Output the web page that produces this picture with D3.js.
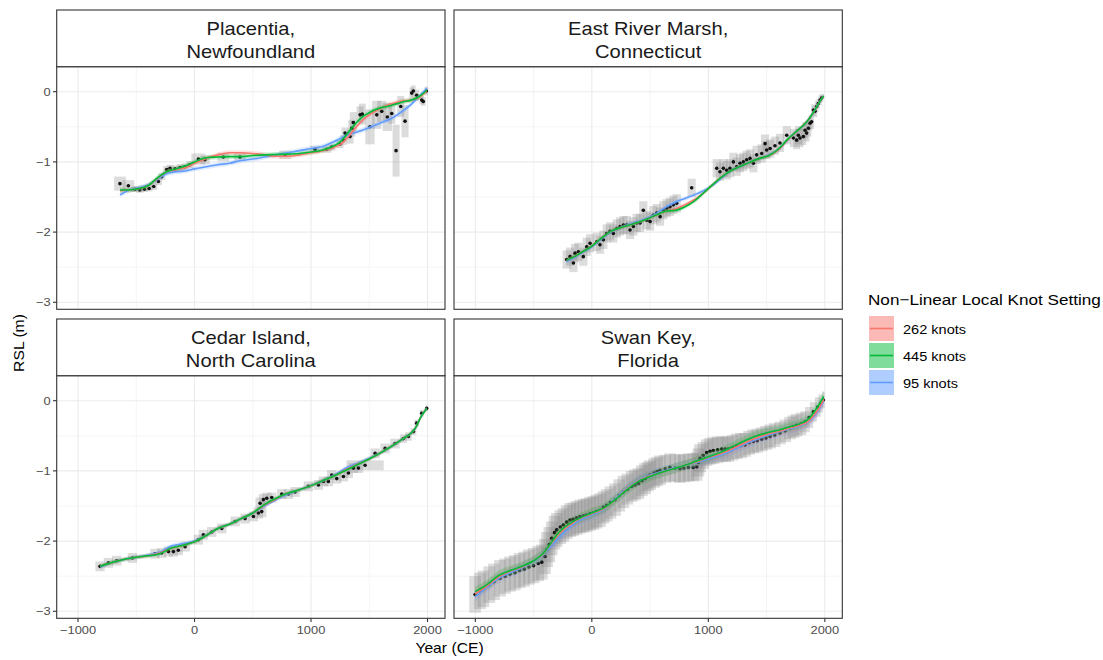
<!DOCTYPE html>
<html>
<head>
<meta charset="utf-8">
<script src="https://cdn.jsdelivr.net/npm/d3@7"></script>
<style>
  body { margin: 0; background: #fff; }
  svg text { font-family: "Liberation Sans", Arial, Helvetica, sans-serif; }
</style>
</head>
<body>
<svg id="chart" width="1103" height="660"></svg>
<script>
// ---------------- data ----------------
const siteNames = [
  ["Placentia,", "Newfoundland"],
  ["East River Marsh,", "Connecticut"],
  ["Cedar Island,", "North Carolina"],
  ["Swan Key,", "Florida"]
];
const seriesNames = ["262 knots", "445 knots", "95 knots"];
const seriesColors = ["#F8766D", "#00BA38", "#619CFF"];
const xTicks = [-1000, 0, 1000, 2000];
const xMinor = [-500, 500, 1500];
const yTicks = [-3, -2, -1, 0];
const yMinor = [-2.5, -1.5, -0.5];

// observations: [year CE, RSL m, year half-uncertainty, RSL half-uncertainty]
const placentiaObs = [
  [-640, -1.31, 50, 0.10], [-568, -1.34, 50, 0.08], [-510, -1.39, 30, 0.04], [-470, -1.40, 30, 0.04],
  [-430, -1.39, 30, 0.04], [-390, -1.38, 30, 0.04], [-350, -1.35, 30, 0.05], [-310, -1.28, 30, 0.05],
  [-282, -1.21, 30, 0.05], [-239, -1.11, 30, 0.05], [-210, -1.09, 30, 0.05], [-167, -1.10, 30, 0.05],
  [-124, -1.08, 30, 0.05], [-82, -1.07, 30, 0.05], [-40, -1.04, 30, 0.05], [33, -0.96, 60, 0.08],
  [90, -0.97, 40, 0.06], [247, -0.93, 50, 0.06], [390, -0.93, 50, 0.06], [777, -0.90, 50, 0.06],
  [1034, -0.82, 40, 0.05], [1135, -0.82, 40, 0.05], [1178, -0.79, 30, 0.05], [1249, -0.745, 30, 0.06],
  [1278, -0.69, 30, 0.07], [1292, -0.59, 30, 0.08], [1335, -0.64, 30, 0.10], [1350, -0.52, 30, 0.12],
  [1363, -0.44, 30, 0.15], [1421, -0.33, 30, 0.12], [1440, -0.32, 30, 0.15], [1506, -0.50, 40, 0.25],
  [1564, -0.33, 40, 0.20], [1607, -0.28, 40, 0.15], [1655, -0.36, 40, 0.20], [1693, -0.31, 30, 0.15],
  [1730, -0.84, 30, 0.37], [1770, -0.21, 30, 0.15], [1807, -0.42, 30, 0.23], [1864, -0.02, 20, 0.08],
  [1878, 0.01, 20, 0.08], [1907, -0.05, 20, 0.08], [1950, -0.12, 20, 0.06], [1964, -0.14, 20, 0.06],
  [1990, 0.01, 15, 0.06]
];
const eastRiverObs = [
  [-216, -2.39, 35, 0.13], [-187, -2.35, 35, 0.13], [-158, -2.44, 35, 0.13], [-144, -2.30, 35, 0.13],
  [-115, -2.28, 35, 0.13], [-73, -2.35, 35, 0.13], [-44, -2.21, 35, 0.13], [-15, -2.16, 35, 0.13],
  [42, -2.14, 35, 0.13], [70, -2.18, 35, 0.13], [99, -2.11, 35, 0.13], [128, -2.02, 35, 0.13],
  [156, -1.99, 35, 0.13], [185, -2.02, 35, 0.13], [214, -1.95, 35, 0.13], [242, -1.92, 35, 0.13],
  [271, -1.90, 35, 0.13], [299, -1.90, 35, 0.13], [328, -1.97, 35, 0.13], [357, -1.92, 35, 0.13],
  [385, -1.87, 35, 0.13], [414, -1.87, 35, 0.13], [442, -1.69, 35, 0.13], [471, -1.83, 35, 0.13],
  [500, -1.85, 35, 0.13], [528, -1.76, 35, 0.13], [557, -1.73, 35, 0.13], [586, -1.78, 35, 0.13],
  [614, -1.69, 35, 0.13], [643, -1.66, 35, 0.13], [671, -1.64, 35, 0.13], [700, -1.61, 35, 0.13],
  [729, -1.59, 35, 0.13], [857, -1.37, 35, 0.13], [1072, -1.09, 35, 0.13], [1100, -1.14, 35, 0.13],
  [1129, -1.09, 35, 0.13], [1158, -1.12, 35, 0.13], [1186, -1.09, 35, 0.13], [1215, -1.00, 35, 0.13],
  [1243, -1.07, 35, 0.13], [1272, -1.02, 35, 0.13], [1301, -1.00, 35, 0.13], [1329, -0.97, 35, 0.13],
  [1358, -0.95, 35, 0.13], [1387, -1.02, 35, 0.13], [1415, -0.90, 35, 0.13], [1458, -0.88, 35, 0.13],
  [1487, -0.74, 35, 0.13], [1501, -0.83, 35, 0.13], [1530, -0.81, 35, 0.13], [1572, -0.77, 35, 0.13],
  [1615, -0.73, 35, 0.13], [1673, -0.62, 35, 0.13], [1730, -0.66, 30, 0.13], [1758, -0.69, 30, 0.13],
  [1773, -0.62, 30, 0.13], [1787, -0.66, 30, 0.13], [1816, -0.64, 25, 0.12], [1830, -0.55, 25, 0.12],
  [1844, -0.59, 25, 0.12], [1859, -0.52, 25, 0.12], [1873, -0.45, 20, 0.10], [1887, -0.43, 20, 0.10],
  [1902, -0.26, 20, 0.08], [1916, -0.28, 20, 0.08], [1930, -0.21, 15, 0.08], [1944, -0.17, 15, 0.07],
  [1959, -0.12, 15, 0.07], [1973, -0.09, 15, 0.06]
];
const cedarIslandObs = [
  [-811, -2.36, 40, 0.07], [-739, -2.31, 40, 0.07], [-668, -2.28, 40, 0.07], [-533, -2.24, 40, 0.07],
  [-339, -2.18, 40, 0.07], [-282, -2.17, 40, 0.07], [-224, -2.15, 40, 0.07], [-181, -2.15, 40, 0.07],
  [-139, -2.13, 40, 0.07], [-81, -2.08, 40, 0.07], [33, -1.98, 40, 0.07], [76, -1.91, 40, 0.07],
  [148, -1.87, 40, 0.07], [234, -1.82, 40, 0.07], [348, -1.72, 40, 0.07], [434, -1.68, 40, 0.07],
  [505, -1.65, 40, 0.07], [548, -1.60, 40, 0.08], [577, -1.58, 40, 0.08], [563, -1.46, 40, 0.08],
  [591, -1.41, 40, 0.08], [620, -1.39, 40, 0.08], [663, -1.38, 40, 0.07], [749, -1.33, 40, 0.07],
  [806, -1.33, 40, 0.07], [863, -1.30, 40, 0.07], [977, -1.22, 40, 0.07], [1063, -1.20, 40, 0.07],
  [1106, -1.15, 40, 0.07], [1149, -1.15, 40, 0.07], [1178, -1.06, 40, 0.07], [1221, -1.11, 40, 0.07],
  [1278, -1.08, 40, 0.07], [1321, -1.03, 40, 0.07], [1364, -0.96, 40, 0.07], [1407, -0.96, 40, 0.07],
  [1464, -0.92, 160, 0.07], [1550, -0.75, 40, 0.07], [1636, -0.68, 40, 0.07], [1721, -0.61, 40, 0.07],
  [1793, -0.54, 30, 0.06], [1836, -0.51, 30, 0.06], [1879, -0.44, 25, 0.05], [1907, -0.32, 20, 0.05],
  [1950, -0.18, 15, 0.05], [1993, -0.11, 10, 0.04]
];
const swanKeyObs = [
  [-1002, -2.76, 50, 0.26], [-960, -2.71, 50, 0.26], [-931, -2.68, 50, 0.26], [-880, -2.62, 50, 0.26],
  [-840, -2.58, 50, 0.26], [-788, -2.53, 50, 0.26], [-745, -2.50, 50, 0.25], [-702, -2.47, 50, 0.25],
  [-660, -2.45, 50, 0.25], [-620, -2.42, 50, 0.25], [-580, -2.40, 50, 0.25], [-540, -2.37, 50, 0.25],
  [-500, -2.35, 50, 0.25], [-460, -2.32, 50, 0.25], [-430, -2.30, 50, 0.25], [-402, -2.22, 50, 0.25],
  [-385, -2.12, 50, 0.25], [-365, -2.05, 50, 0.25], [-344, -1.96, 50, 0.24], [-320, -1.88, 50, 0.24],
  [-301, -1.84, 50, 0.24], [-270, -1.80, 50, 0.24], [-244, -1.77, 50, 0.24], [-215, -1.73, 50, 0.24],
  [-187, -1.70, 50, 0.24], [-160, -1.69, 50, 0.24], [-130, -1.67, 50, 0.24], [-101, -1.65, 50, 0.24],
  [-70, -1.64, 50, 0.24], [-44, -1.63, 50, 0.24], [-15, -1.61, 50, 0.24], [13, -1.60, 50, 0.24],
  [40, -1.58, 50, 0.24], [70, -1.56, 50, 0.24], [100, -1.52, 50, 0.23], [128, -1.49, 50, 0.23],
  [160, -1.45, 50, 0.23], [199, -1.41, 50, 0.23], [235, -1.35, 50, 0.23], [271, -1.30, 50, 0.23],
  [305, -1.26, 50, 0.22], [342, -1.22, 50, 0.22], [370, -1.20, 50, 0.22], [400, -1.18, 50, 0.22],
  [430, -1.14, 50, 0.22], [457, -1.11, 50, 0.22], [480, -1.08, 50, 0.21], [500, -1.06, 50, 0.21],
  [534, -1.03, 50, 0.21], [560, -1.01, 50, 0.21], [585, -0.99, 50, 0.21], [630, -0.97, 50, 0.20],
  [671, -0.95, 50, 0.20], [715, -0.96, 50, 0.20], [757, -0.97, 50, 0.20], [790, -0.96, 50, 0.20],
  [829, -0.95, 50, 0.20], [870, -0.95, 50, 0.20], [900, -0.94, 50, 0.20], [915, -0.88, 50, 0.20],
  [929, -0.82, 50, 0.20], [957, -0.78, 50, 0.19], [986, -0.74, 50, 0.19], [1015, -0.72, 50, 0.19],
  [1043, -0.71, 50, 0.19], [1080, -0.70, 50, 0.19], [1115, -0.69, 50, 0.18], [1145, -0.69, 50, 0.18],
  [1172, -0.69, 50, 0.18], [1210, -0.67, 50, 0.18], [1243, -0.65, 50, 0.18], [1280, -0.64, 50, 0.18],
  [1315, -0.63, 50, 0.17], [1350, -0.60, 50, 0.17], [1386, -0.58, 50, 0.17], [1420, -0.57, 50, 0.17],
  [1458, -0.55, 50, 0.17], [1495, -0.53, 50, 0.17], [1530, -0.51, 50, 0.17], [1570, -0.49, 50, 0.17],
  [1615, -0.46, 50, 0.16], [1660, -0.43, 50, 0.16], [1701, -0.39, 50, 0.16], [1730, -0.37, 50, 0.16],
  [1758, -0.35, 50, 0.16], [1795, -0.33, 45, 0.16], [1830, -0.30, 40, 0.15], [1865, -0.24, 35, 0.15],
  [1902, -0.16, 30, 0.14], [1940, -0.09, 25, 0.14], [1965, -0.04, 20, 0.13], [1987, 0.01, 12, 0.12]
];

// fitted curves (262, 445 and 95 knots) on each site's year grid
const placentiaFitYears = [-640, -560, -480, -400, -320, -240, -160, -80, 0, 100, 200, 300, 400, 500, 600, 700, 800, 900, 1000, 1100, 1200, 1260, 1320, 1380, 1440, 1500, 1560, 1620, 1680, 1740, 1800, 1860, 1920, 1993];
const placentiaFit262 = [-1.41, -1.40, -1.38, -1.34, -1.24, -1.14, -1.11, -1.08, -1.02, -0.95, -0.90, -0.87, -0.87, -0.88, -0.90, -0.92, -0.92, -0.90, -0.87, -0.84, -0.79, -0.74, -0.64, -0.52, -0.41, -0.33, -0.27, -0.22, -0.18, -0.15, -0.13, -0.12, -0.09, 0.01];
const placentiaFit445 = [-1.40, -1.40, -1.38, -1.34, -1.23, -1.14, -1.10, -1.06, -1.00, -0.94, -0.93, -0.925, -0.925, -0.91, -0.90, -0.895, -0.89, -0.88, -0.86, -0.83, -0.77, -0.70, -0.58, -0.46, -0.36, -0.30, -0.25, -0.22, -0.20, -0.17, -0.14, -0.12, -0.08, 0.02];
const placentiaFit95 = [-1.47, -1.40, -1.37, -1.33, -1.25, -1.17, -1.14, -1.13, -1.10, -1.07, -1.04, -1.02, -0.98, -0.96, -0.93, -0.90, -0.87, -0.84, -0.81, -0.78, -0.71, -0.66, -0.61, -0.58, -0.55, -0.51, -0.47, -0.43, -0.39, -0.33, -0.26, -0.18, -0.08, 0.05];

const eastRiverFitYears = [-216, -150, -80, 0, 80, 160, 240, 320, 400, 480, 560, 640, 720, 800, 880, 960, 1040, 1120, 1200, 1280, 1360, 1440, 1520, 1600, 1680, 1760, 1840, 1900, 1950, 1990];
const eastRiverFit262 = [-2.40, -2.35, -2.28, -2.20, -2.09, -1.99, -1.94, -1.90, -1.86, -1.81, -1.75, -1.70, -1.67, -1.61, -1.54, -1.44, -1.32, -1.21, -1.12, -1.06, -1.00, -0.95, -0.91, -0.83, -0.69, -0.56, -0.44, -0.30, -0.16, -0.06];
const eastRiverFit445 = [-2.40, -2.35, -2.28, -2.20, -2.09, -1.99, -1.94, -1.90, -1.86, -1.81, -1.75, -1.70, -1.69, -1.64, -1.56, -1.44, -1.32, -1.21, -1.12, -1.06, -1.00, -0.95, -0.91, -0.82, -0.68, -0.56, -0.44, -0.30, -0.16, -0.06];
const eastRiverFit95 = [-2.42, -2.36, -2.29, -2.21, -2.10, -2.00, -1.94, -1.89, -1.85, -1.80, -1.73, -1.64, -1.57, -1.52, -1.47, -1.41, -1.33, -1.22, -1.12, -1.06, -1.00, -0.95, -0.90, -0.83, -0.69, -0.56, -0.44, -0.30, -0.16, -0.06];

const cedarIslandFitYears = [-811, -700, -600, -500, -400, -300, -200, -100, 0, 100, 200, 300, 400, 500, 600, 700, 800, 900, 1000, 1100, 1200, 1300, 1400, 1500, 1600, 1700, 1800, 1860, 1900, 1940, 1993];
const cedarIslandFit262 = [-2.36, -2.30, -2.26, -2.23, -2.21, -2.17, -2.10, -2.06, -2.01, -1.92, -1.82, -1.76, -1.68, -1.60, -1.49, -1.40, -1.32, -1.27, -1.21, -1.14, -1.07, -0.98, -0.90, -0.83, -0.74, -0.64, -0.53, -0.46, -0.38, -0.24, -0.11];
const cedarIslandFit445 = [-2.36, -2.30, -2.26, -2.23, -2.21, -2.18, -2.10, -2.06, -2.01, -1.92, -1.82, -1.76, -1.68, -1.60, -1.48, -1.39, -1.32, -1.27, -1.21, -1.14, -1.07, -0.99, -0.91, -0.83, -0.74, -0.64, -0.53, -0.46, -0.38, -0.24, -0.11];
const cedarIslandFit95 = [-2.37, -2.30, -2.26, -2.23, -2.20, -2.16, -2.07, -2.04, -2.00, -1.92, -1.82, -1.76, -1.68, -1.60, -1.50, -1.41, -1.33, -1.27, -1.21, -1.14, -1.06, -0.96, -0.89, -0.82, -0.74, -0.64, -0.53, -0.46, -0.38, -0.24, -0.11];

const swanKeyFitYears = [-1002, -900, -800, -700, -600, -500, -420, -360, -300, -240, -180, -100, 0, 100, 200, 300, 400, 500, 600, 700, 800, 900, 1000, 1100, 1200, 1300, 1400, 1500, 1600, 1700, 1800, 1860, 1920, 1960, 1990];
const swanKeyFit262 = [-2.75, -2.64, -2.51, -2.43, -2.37, -2.28, -2.19, -2.06, -1.93, -1.83, -1.76, -1.68, -1.61, -1.54, -1.41, -1.26, -1.14, -1.07, -1.02, -0.97, -0.92, -0.87, -0.81, -0.76, -0.69, -0.61, -0.54, -0.48, -0.44, -0.39, -0.34, -0.29, -0.18, -0.08, 0.02];
const swanKeyFit445 = [-2.72, -2.62, -2.49, -2.42, -2.36, -2.28, -2.18, -2.05, -1.91, -1.81, -1.74, -1.67, -1.60, -1.53, -1.41, -1.27, -1.15, -1.08, -1.02, -0.97, -0.92, -0.86, -0.80, -0.74, -0.66, -0.58, -0.51, -0.46, -0.42, -0.37, -0.32, -0.26, -0.13, -0.03, 0.06];
const swanKeyFit95 = [-2.79, -2.66, -2.53, -2.45, -2.38, -2.29, -2.20, -2.09, -1.98, -1.88, -1.79, -1.70, -1.63, -1.55, -1.40, -1.25, -1.13, -1.06, -1.01, -0.96, -0.92, -0.88, -0.83, -0.78, -0.71, -0.63, -0.56, -0.50, -0.45, -0.40, -0.35, -0.30, -0.20, -0.10, -0.01];

// half-width of the credible-interval ribbon at each site
const bandHalfWidth = [0.035, 0.03, 0.03, 0.07];

const panels = [
  { obs: placentiaObs, years: placentiaFitYears, fits: [placentiaFit262, placentiaFit445, placentiaFit95] },
  { obs: eastRiverObs, years: eastRiverFitYears, fits: [eastRiverFit262, eastRiverFit445, eastRiverFit95] },
  { obs: cedarIslandObs, years: cedarIslandFitYears, fits: [cedarIslandFit262, cedarIslandFit445, cedarIslandFit95] },
  { obs: swanKeyObs, years: swanKeyFitYears, fits: [swanKeyFit262, swanKeyFit445, swanKeyFit95] }
].map((p, i) => ({ ...p, name: siteNames[i], band: bandHalfWidth[i] }));

// ---------------- layout ----------------
const colLeft = [56.7, 454];
const panelW = 388.3;
const stripTop = [10, 319];
const stripH = 56.7;
const panelH = 242.6;
const STRETCH = 1.12;       // horizontal text stretch
const textCol = "#1A1A1A";
const tickCol = "#4D4D4D";
const borderCol = "#333333";

const svg = d3.select("#chart");
const x = d3.scaleLinear().domain([-1183, 2150]).range([0, panelW]);
const y = d3.scaleLinear().domain([-3.1, 0.356]).range([panelH, 0]);
const fmt = d3.format("d");

// text with a slight horizontal stretch around its anchor point
function label(g, tx, ty, str, size, anchor, color) {
  return g.append("text")
    .attr("transform", `translate(${tx},${ty}) scale(${STRETCH},1)`)
    .attr("text-anchor", anchor)
    .attr("font-size", size)
    .attr("fill", color)
    .text(str);
}

// draw order of the fitted series (blue underneath, green on top)
const drawOrder = [2, 0, 1];

panels.forEach((p, i) => {
  const col = i % 2, row = Math.floor(i / 2);
  const left = colLeft[col];
  const top = stripTop[row] + stripH;
  const g = svg.append("g").attr("transform", `translate(${left},${top})`);

  const clipId = "clip" + i;
  g.append("clipPath").attr("id", clipId)
    .append("rect").attr("width", panelW).attr("height", panelH);

  // gridlines
  const grid = g.append("g");
  grid.selectAll(".xminor").data(xMinor).join("line")
    .attr("x1", d => x(d)).attr("x2", d => x(d)).attr("y1", 0).attr("y2", panelH)
    .attr("stroke", "#EBEBEB").attr("stroke-width", 0.55);
  grid.selectAll(".yminor").data(yMinor).join("line")
    .attr("y1", d => y(d)).attr("y2", d => y(d)).attr("x1", 0).attr("x2", panelW)
    .attr("stroke", "#EBEBEB").attr("stroke-width", 0.55);
  grid.selectAll(".xmajor").data(xTicks).join("line")
    .attr("x1", d => x(d)).attr("x2", d => x(d)).attr("y1", 0).attr("y2", panelH)
    .attr("stroke", "#EBEBEB").attr("stroke-width", 1.1);
  grid.selectAll(".ymajor").data(yTicks).join("line")
    .attr("y1", d => y(d)).attr("y2", d => y(d)).attr("x1", 0).attr("x2", panelW)
    .attr("stroke", "#EBEBEB").attr("stroke-width", 1.1);

  const plot = g.append("g").attr("clip-path", `url(#${clipId})`);

  // uncertainty boxes
  plot.append("g").selectAll("rect").data(p.obs).join("rect")
    .attr("x", d => x(d[0] - d[2]))
    .attr("width", d => x(d[0] + d[2]) - x(d[0] - d[2]))
    .attr("y", d => y(d[1] + d[3]))
    .attr("height", d => y(d[1] - d[3]) - y(d[1] + d[3]))
    .attr("fill", "#808080").attr("fill-opacity", 0.28);

  // observations
  plot.append("g").selectAll("circle").data(p.obs).join("circle")
    .attr("cx", d => x(d[0])).attr("cy", d => y(d[1])).attr("r", 1.8)
    .attr("fill", "#111");

  // ribbons and fitted lines
  const area = d3.area().curve(d3.curveMonotoneX)
    .x(d => x(d[0])).y0(d => y(d[1] - p.band)).y1(d => y(d[1] + p.band));
  const line = d3.line().curve(d3.curveMonotoneX)
    .x(d => x(d[0])).y(d => y(d[1]));
  drawOrder.forEach(s => {
    const pts = p.years.map((yr, k) => [yr, p.fits[s][k]]);
    plot.append("path").datum(pts).attr("d", area)
      .attr("fill", seriesColors[s]).attr("fill-opacity", 0.2);
  });
  drawOrder.forEach(s => {
    const pts = p.years.map((yr, k) => [yr, p.fits[s][k]]);
    plot.append("path").datum(pts).attr("d", line)
      .attr("fill", "none").attr("stroke", seriesColors[s]).attr("stroke-width", 1.6);
  });

  // panel border
  g.append("rect").attr("width", panelW).attr("height", panelH)
    .attr("fill", "none").attr("stroke", borderCol).attr("stroke-width", 1.1);

  // strip
  const s = svg.append("g").attr("transform", `translate(${left},${stripTop[row]})`);
  s.append("rect").attr("width", panelW).attr("height", stripH)
    .attr("fill", "#fff").attr("stroke", borderCol).attr("stroke-width", 1.1);
  label(s, panelW / 2, 25, p.name[0], 18, "middle", textCol);
  label(s, panelW / 2, 48, p.name[1], 18, "middle", textCol);

  // y axis on left column
  if (col === 0) {
    yTicks.forEach(t => {
      g.append("line").attr("x1", -3.7).attr("x2", 0).attr("y1", y(t)).attr("y2", y(t))
        .attr("stroke", borderCol).attr("stroke-width", 1.1);
      label(g, -6, y(t) + 4, t === 0 ? "0" : "\u2212" + Math.abs(t), 11.5, "end", tickCol);
    });
  }
  // x axis on bottom row
  if (row === 1) {
    xTicks.forEach(t => {
      g.append("line").attr("x1", x(t)).attr("x2", x(t)).attr("y1", panelH).attr("y2", panelH + 3.7)
        .attr("stroke", borderCol).attr("stroke-width", 1.1);
      label(g, x(t), panelH + 15.5, t < 0 ? "\u2212" + fmt(Math.abs(t)) : fmt(t), 11.5, "middle", tickCol);
    });
  }
});

// axis titles
label(svg, (colLeft[0] + colLeft[1] + panelW) / 2, 653, "Year (CE)", 14, "middle", "#000");
svg.append("text")
  .attr("transform", `translate(24,343) rotate(-90) scale(${STRETCH},1)`)
  .attr("text-anchor", "middle").attr("font-size", 14).attr("fill", "#000")
  .text("RSL (m)");

// legend
const lg = svg.append("g").attr("transform", "translate(868,0)");
label(lg, 0, 305, "Non\u2212Linear Local Knot Setting", 15.3, "start", "#000");
seriesNames.forEach((nm, i) => {
  const ky = 316 + i * 27;
  lg.append("rect").attr("x", 1).attr("y", ky).attr("width", 25).attr("height", 25)
    .attr("fill", seriesColors[i]).attr("fill-opacity", 0.5);
  lg.append("line").attr("x1", 2).attr("x2", 25).attr("y1", ky + 12.5).attr("y2", ky + 12.5)
    .attr("stroke", seriesColors[i]).attr("stroke-width", 1.6);
  label(lg, 35, ky + 17.5, nm, 13, "start", "#000");
});
</script>
</body>
</html>
